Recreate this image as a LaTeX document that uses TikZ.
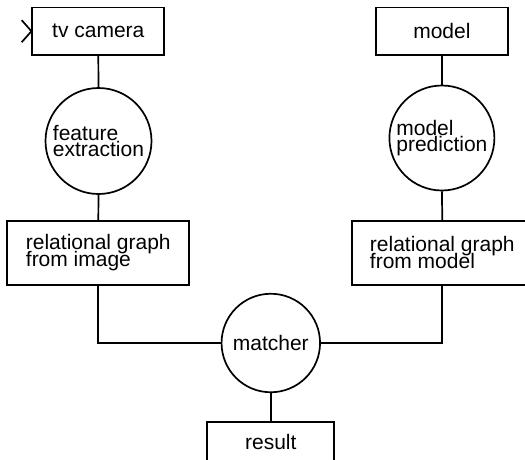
\documentclass[tikz,border=0pt]{standalone}
\usepackage{fontspec}
\setmainfont{Liberation Sans}
\newcommand\mytightlines{\lineskiplimit -50pt\relax\lineskip 0pt\relax}
\begin{document}
\begin{tikzpicture}[x=1pt,y=-1pt,
  every node/.style={font=\fontsize{21}{16.7}\selectfont\mytightlines, inner sep=0pt},
  lw/.style={line width=1.7pt},
  boxnode/.style={draw, lw, rectangle, align=left},
  circnode/.style={draw, lw, circle, align=left},
  link/.style={lw}]
\clip (0,0) rectangle (525,459);
\node[boxnode, minimum width=132pt, minimum height=47.7pt] (tv) at (98.3,31.2) {tv camera};
\node[boxnode, minimum width=131.7pt, minimum height=47.7pt] (model) at (441.9,31.2) {model};
\node[circnode, minimum size=106pt] (fe) at (98.5,141) {feature\\extraction};
\node[circnode, minimum size=105pt] (mp) at (441.9,138) {model\\prediction};
\node[boxnode, minimum width=182pt, minimum height=64.3pt] (rgi) at (98.3,252.8) {relational graph\\from image};
\node[boxnode, minimum width=181.3pt, minimum height=64.3pt] (rgm) at (442.3,252.8) {relational graph\\from model};
\node[circnode, minimum size=98.5pt] (matcher) at (270.8,343) {matcher};
\node[boxnode, minimum width=127pt, minimum height=40.5pt] (result) at (270.8,442) {result};
\coordinate (ch1) at (21.7,20.2);
\coordinate (ch2) at (21.7,42.2);
\draw[link] (ch1) -- (tv.west) -- (ch2);
\draw[link] (tv.south) -- (fe.north);
\draw[link] (fe.south) -- (rgi.north);
\draw[link] (rgi.south) |- (matcher.west);
\draw[link] (model.south) -- (mp.north);
\draw[link] (mp.south) -- (rgm.north);
\draw[link] (rgm.south) |- (matcher.east);
\draw[link] (matcher.south) -- (result.north);
\end{tikzpicture}
\end{document}
